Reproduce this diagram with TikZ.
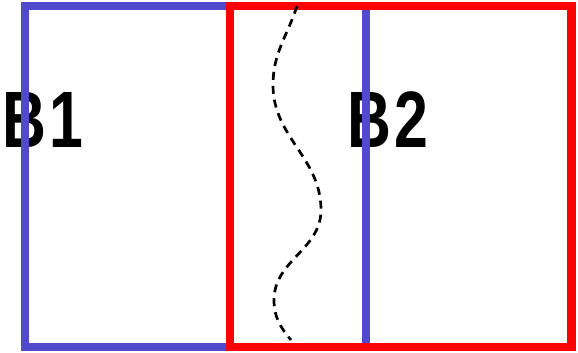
\documentclass[tikz,border=0pt]{standalone}
\usepackage{fontspec}
\setmainfont{Liberation Sans}
\usetikzlibrary{calc}

\definecolor{boxblue}{RGB}{82,74,204}
\definecolor{boxred}{RGB}{255,0,0}

\tikzset{
  blocklabel/.style={inner sep=0pt, font=\fontsize{80}{80}\selectfont\bfseries, xscale=0.76},
  blockframe/.style={line width=8.5pt, line join=miter},
}

\begin{document}
\begin{tikzpicture}[x=1pt, y=1pt]
  \useasboundingbox (0,0) rectangle (578,353);
  % labels sit under the frames
  \node[blocklabel] (b1) at (43,233) {B\kern5pt1};
  \node[blocklabel] (b2) at (388,233) {B\kern5pt2};
  \draw[blockframe, boxblue] (25,6) rectangle (366,347);
  \draw[blockframe, boxred] (230,6) rectangle (571.5,347);
  % split line
  \draw[line width=2.7pt, dash pattern=on 8pt off 6pt]
    (297,347) to[out=252,in=90] (273,268) to[out=-90,in=90] (321,143)
    to[out=-90,in=90] (274,53) to[out=-90,in=130] (291,13);
\end{tikzpicture}
\end{document}
